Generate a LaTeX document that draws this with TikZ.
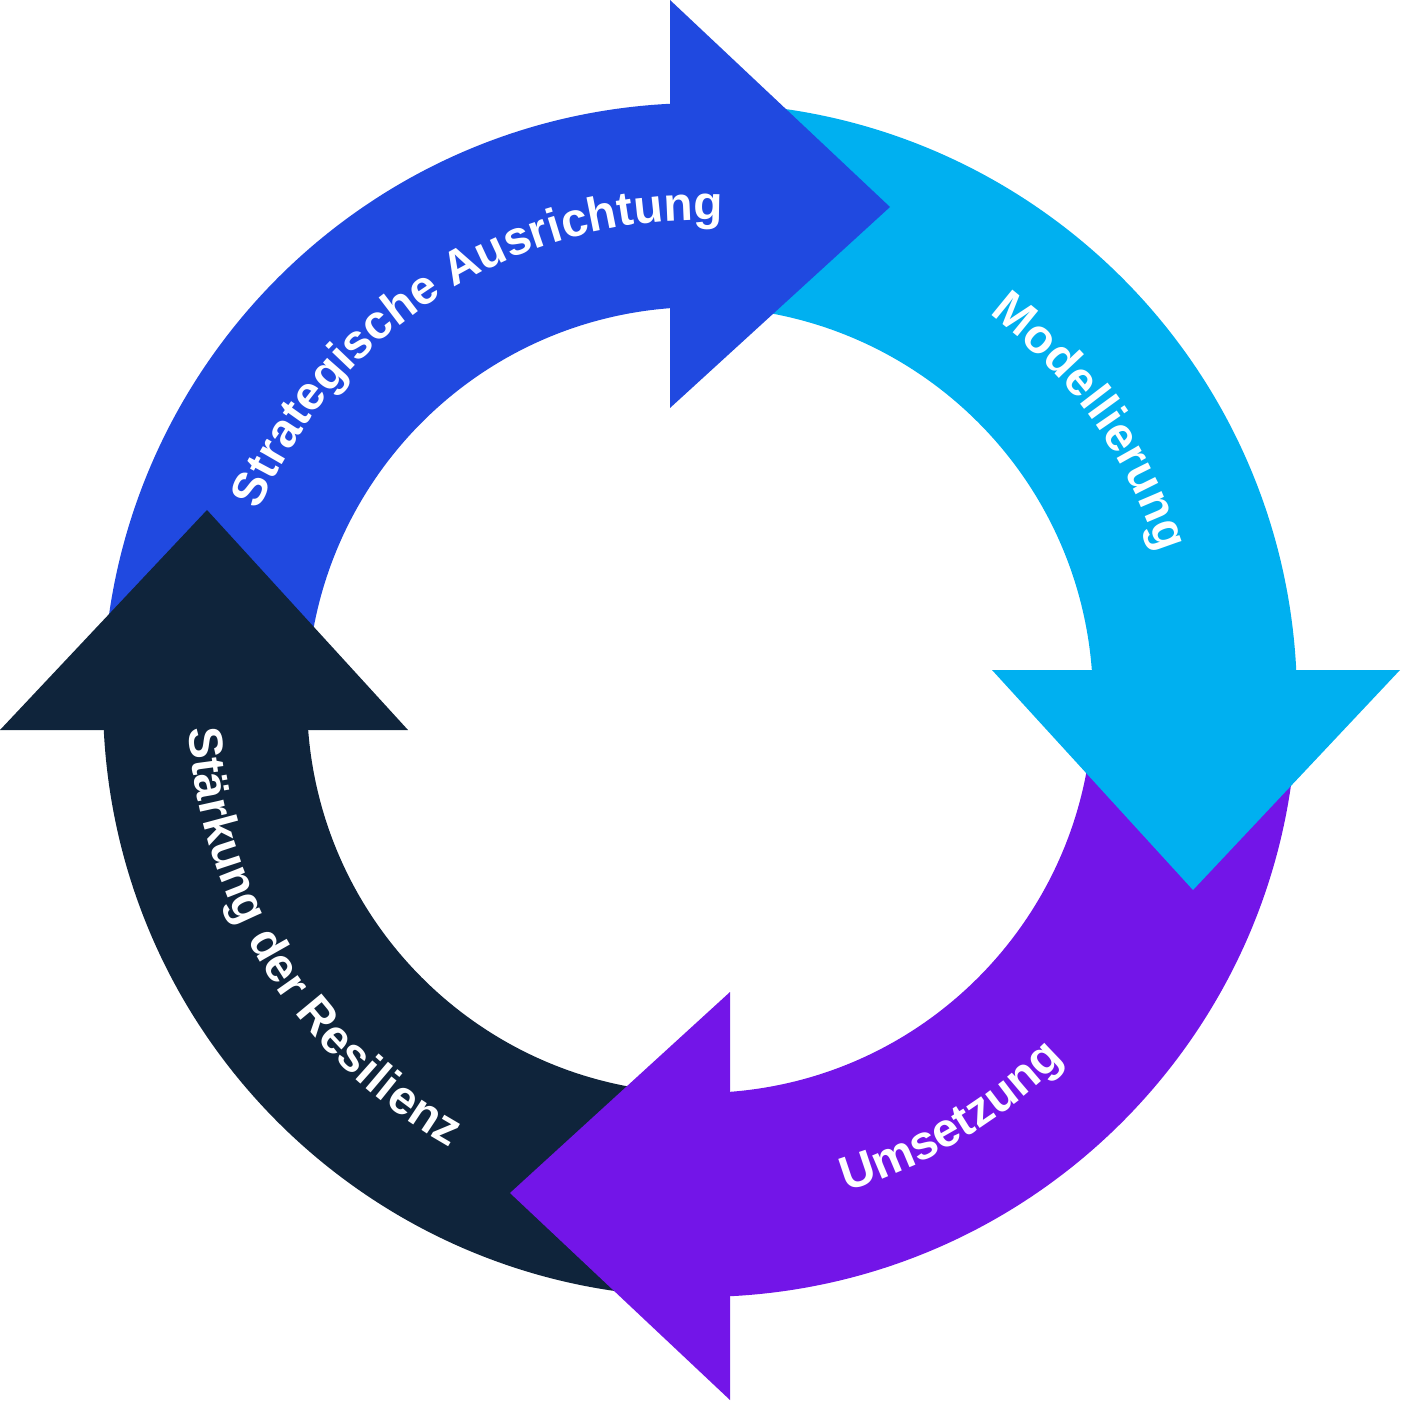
\documentclass[tikz,border=0pt]{standalone}
\usepackage{fontspec}
\setmainfont{Liberation Sans}
\usetikzlibrary{decorations.text}
\definecolor{stratblue}{HTML}{2049E0}
\definecolor{modcyan}{HTML}{00B0F0}
\definecolor{umspurple}{HTML}{7315E8}
\definecolor{resnavy}{HTML}{0F243B}
\tikzset{
  ringlabel/.style={decorate,decoration={text along path,text align=center,
    text={|\color{white}\bfseries\fontsize{13.6}{15}\selectfont|#1}}}
}
\begin{document}
\begin{tikzpicture}
      \useasboundingbox (-7.00,-7.03) rectangle (7.04,7.00);
      \coordinate (O) at (0,0);

      % ring bodies
      \foreach \rot / \col in {0/stratblue, -90/modcyan, -180/umspurple, -270/resnavy}
      {
        \fill [\col, rotate=\rot] (182:5.97) arc [start angle=182, end angle=92.88, radius=5.97]
          -- (94.38:3.93) arc [start angle=94.38, end angle=182, radius=3.93] -- cycle;
      }
      % arrow heads
      \foreach \rot / \col in {0/stratblue, -90/modcyan, -180/umspurple, -270/resnavy}
      {
        \fill [\col, rotate=\rot] (-0.30,7.00) -- (1.90,4.93) -- (-0.30,2.92) -- cycle;
      }

      % labels
      \path [ringlabel={Strategische Ausrichtung}] (174:4.80) arc [start angle=174, end angle=70, radius=4.80];
      \path [ringlabel={Modellierung}] (80:4.82) arc [start angle=80, end angle=-9, radius=4.82];
      \path [ringlabel={Umsetzung}] (-101:5.12) arc [start angle=-101, end angle=-17, radius=5.12];
      \path [ringlabel={Stärkung der Resilienz}] (165:5.12) arc [start angle=165, end angle=259, radius=5.12];
  \end{tikzpicture}
\end{document}
